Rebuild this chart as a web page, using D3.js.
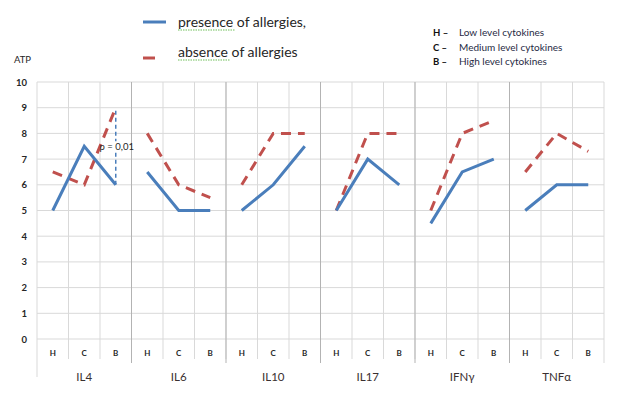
<!DOCTYPE html>
<html><head><meta charset="utf-8">
<script src="https://cdn.jsdelivr.net/npm/d3@7"></script>
<style>
html,body{margin:0;padding:0;background:#fff;}
svg{display:block;font-family:Lato,"Open Sans",sans-serif;}
</style></head>
<body>
<svg id="c" width="618" height="399"></svg>
<script>
const groups = ["IL4","IL6","IL10","IL17","IFNγ","TNFα"];
const levels = ["H","C","B"];
const presence = [5,7.5,6, 6.5,5,5, 5,6,7.5, 5,7,6, 4.5,6.5,7, 5,6,6];
const absence  = [6.5,6,9, 8,6,5.5, 6,8,8, 5,8,8, 5,8,8.5, 6.5,8,7.3];
const yTicks = [0,1,2,3,4,5,6,7,8,9,10];
const seriesNames = ["presence of allergies,","absence of allergies"];
const levelNotes = [["H –","Low level cytokines"],["C –","Medium level cytokines"],["B –","High level cytokines"]];
const annotation = {group:"IL4", level:"B", from:6, to:9, label:"p = 0,01"};

const svg = d3.select("#c");
const L = 37, R = 604, T = 82, B = 339;
const keys = [];
groups.forEach(g => levels.forEach(l => keys.push(g + "|" + l)));
const x = d3.scaleBand().domain(keys).range([L, R]).padding(0);
const xg = d3.scaleBand().domain(groups).range([L, R]).padding(0);
const y = d3.scaleLinear().domain([0, 10]).range([B, T]);
const cx = k => x(k) + x.bandwidth() / 2;

// horizontal gridlines
svg.append("g").selectAll("line").data(yTicks).join("line")
  .attr("x1", L).attr("x2", R).attr("y1", d => y(d)).attr("y2", d => y(d))
  .attr("stroke", "#d9d9d9").attr("stroke-width", 1);
// vertical gridlines (categories)
svg.append("g").selectAll("line").data(keys.slice(1)).join("line")
  .attr("x1", d => x(d)).attr("x2", d => x(d)).attr("y1", T).attr("y2", B + 20)
  .attr("stroke", "#d9d9d9").attr("stroke-width", 1);
// group separators
svg.append("g").selectAll("line").data(groups.slice(1)).join("line")
  .attr("x1", d => xg(d)).attr("x2", d => xg(d)).attr("y1", T).attr("y2", B + 24)
  .attr("stroke", "#b3b3b3").attr("stroke-width", 1);
// right border
svg.append("line").attr("x1", R).attr("x2", R).attr("y1", T).attr("y2", B + 24)
  .attr("stroke", "#d9d9d9");
// left axis line
svg.append("line").attr("x1", L).attr("x2", L).attr("y1", T).attr("y2", B + 38)
  .attr("stroke", "#d9d9d9");

// y axis labels
const ya = svg.append("g").attr("transform", `translate(${L},0)`)
  .call(d3.axisLeft(y).tickValues(yTicks).tickSize(0).tickPadding(10).tickFormat(d3.format("d")));
ya.select(".domain").remove();
ya.selectAll("text").attr("font-family", "Lato, sans-serif").attr("font-size", 9.5)
  .attr("font-weight", "bold").attr("fill", "#262626");

svg.append("text").attr("x", 14).attr("y", 63).text("ATP")
  .attr("font-size", 9.5).attr("fill", "#262626");

// category labels
svg.append("g").selectAll("text").data(keys).join("text")
  .attr("x", d => cx(d)).attr("y", B + 17).attr("text-anchor", "middle")
  .attr("font-size", 8).attr("font-weight", "bold").attr("fill", "#262626")
  .text(d => d.split("|")[1]);
svg.append("g").selectAll("text").data(groups).join("text")
  .attr("x", d => xg(d) + xg.bandwidth() / 2).attr("y", B + 42).attr("text-anchor", "middle")
  .attr("font-size", 11.5).attr("fill", "#3a3030").text(d => d);

// lines
const line = d3.line().x(d => cx(d.k)).y(d => y(d.v));
function seg(arr) {
  return groups.map((g, gi) => levels.map((l, li) => ({k: g + "|" + l, v: arr[gi * 3 + li]})));
}
svg.append("g").selectAll("path").data(seg(absence)).join("path")
  .attr("d", line).attr("fill", "none").attr("stroke", "#c0504d").attr("stroke-width", 3)
  .attr("stroke-dasharray", "10,7");
svg.append("g").selectAll("path").data(seg(presence)).join("path")
  .attr("d", line).attr("fill", "none").attr("stroke", "#4a7ebb").attr("stroke-width", 3)
  .attr("stroke-linejoin", "miter");

// annotation
const ak = annotation.group + "|" + annotation.level;
svg.append("line").attr("x1", cx(ak)).attr("x2", cx(ak))
  .attr("y1", y(annotation.from)).attr("y2", y(annotation.to))
  .attr("stroke", "#4a7ebb").attr("stroke-width", 1.5).attr("stroke-dasharray", "4,3");
svg.append("rect").attr("x", cx(ak) - 13).attr("y", y(7.5) - 5).attr("width", 28).attr("height", 10)
  .attr("fill", "#fff");
svg.append("text").attr("x", cx(ak) + 1).attr("y", y(7.5) + 3.5).attr("text-anchor", "middle")
  .attr("font-size", 9.5).attr("fill", "#262626").text(annotation.label);

// legend
const lg = svg.append("g");
lg.append("line").attr("x1", 143).attr("x2", 166).attr("y1", 22).attr("y2", 22)
  .attr("stroke", "#4a7ebb").attr("stroke-width", 3);
lg.append("line").attr("x1", 143).attr("x2", 155).attr("y1", 58).attr("y2", 58)
  .attr("stroke", "#c0504d").attr("stroke-width", 3);
lg.append("text").attr("x", 178).attr("y", 27).attr("font-size", 14).attr("fill", "#262626").text(seriesNames[0]);
lg.append("text").attr("x", 178).attr("y", 57).attr("font-size", 14).attr("fill", "#262626").text(seriesNames[1]);
lg.append("line").attr("x1", 178).attr("x2", 235).attr("y1", 30).attr("y2", 30)
  .attr("stroke", "#6fbf5a").attr("stroke-width", 1).attr("stroke-dasharray", "1.5,1");
lg.append("line").attr("x1", 178).attr("x2", 230).attr("y1", 60).attr("y2", 60)
  .attr("stroke", "#6fbf5a").attr("stroke-width", 1).attr("stroke-dasharray", "1.5,1");

const ng = svg.append("g").selectAll("g").data(levelNotes).join("g")
  .attr("transform", (d, i) => `translate(0,${36 + i * 14.5})`);
ng.append("text").attr("x", 433).attr("font-size", 9.5).attr("font-weight", "bold").attr("fill", "#111").text(d => d[0]);
ng.append("text").attr("x", 459).attr("font-size", 10).attr("fill", "#1f2a44").text(d => d[1]);
</script>
</body></html>
